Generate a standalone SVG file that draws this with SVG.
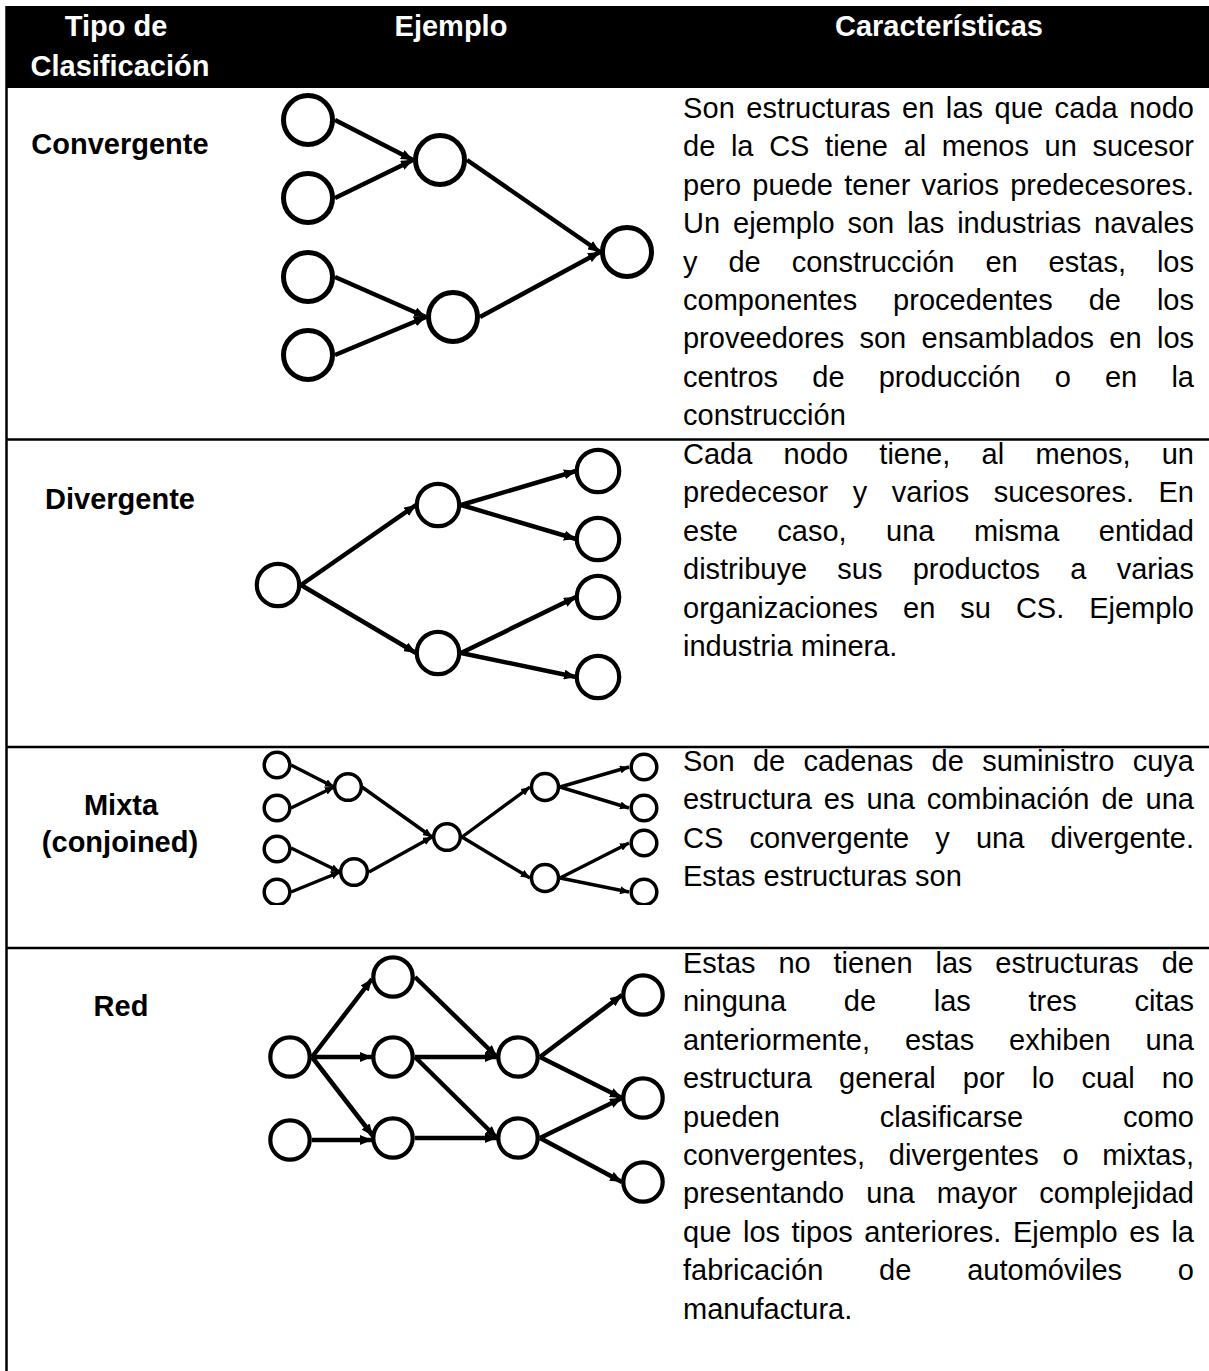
<svg xmlns="http://www.w3.org/2000/svg" width="1209" height="1371" viewBox="0 0 1209 1371">
<style>
.hdr{font-family:"Liberation Sans",Arial,sans-serif;font-weight:bold;font-size:29px;fill:#fff;text-anchor:middle}
.lbl{font-family:"Liberation Sans",Arial,sans-serif;font-weight:bold;font-size:29px;fill:#000;text-anchor:middle}
.body{font-family:"Liberation Sans",Arial,sans-serif;font-size:29px;fill:#000}
.rule{stroke:#000;stroke-width:2.5;fill:none}
.n5{fill:#fff;stroke:#000;stroke-width:5}
.n4{fill:#fff;stroke:#000;stroke-width:4.2}
.n3{fill:#fff;stroke:#000;stroke-width:3.5}
.e{stroke:#000;fill:none;marker-end:url(#ah)}
.e4{stroke-width:4.5}
.e3{stroke-width:3.4;marker-end:url(#ahs)}
</style>
<defs>
<marker id="ah" markerUnits="userSpaceOnUse" markerWidth="12" markerHeight="10" refX="12" refY="5" orient="auto"><path d="M0,0 L12,5 L0,10 Z" fill="#000"/></marker>
<marker id="ahs" markerUnits="userSpaceOnUse" markerWidth="9" markerHeight="8" refX="9" refY="4" orient="auto"><path d="M0,0 L9,4 L0,8 Z" fill="#000"/></marker>
<clipPath id="mixclip"><rect x="255" y="748" width="404" height="157"/></clipPath>
</defs>
<rect width="1209" height="1371" fill="#fff"/>

<g id="table">
<rect x="6" y="6" width="1203" height="82" fill="#000"/>
<line class="rule" x1="6.5" y1="6" x2="6.5" y2="1371"/>
<line class="rule" x1="6" y1="439.5" x2="1209" y2="439.5"/>
<line class="rule" x1="6" y1="747" x2="1209" y2="747"/>
<line class="rule" x1="6" y1="948" x2="1209" y2="948"/>
</g>

<g id="header">
<text class="hdr" x="116" y="36">Tipo de</text>
<text class="hdr" x="120" y="76">Clasificación</text>
<text class="hdr" x="451" y="36">Ejemplo</text>
<text class="hdr" x="939" y="36">Características</text>
</g>

<g id="labels">
<text class="lbl" x="120" y="154">Convergente</text>
<text class="lbl" x="120" y="509">Divergente</text>
<text class="lbl" x="121" y="815">Mixta</text>
<text class="lbl" x="120" y="852">(conjoined)</text>
<text class="lbl" x="121" y="1016">Red</text>
</g>

<g id="desc-convergente">
<text class="body" x="683" y="118" word-spacing="3.2" textLength="511" lengthAdjust="spacing">Son estructuras en las que cada nodo</text>
<text class="body" x="683" y="156.4" word-spacing="7.6" textLength="511" lengthAdjust="spacing">de la CS tiene al menos un sucesor</text>
<text class="body" x="683" y="194.8" word-spacing="3.2" textLength="511" lengthAdjust="spacing">pero puede tener varios predecesores.</text>
<text class="body" x="683" y="233.2" word-spacing="4.9" textLength="511" lengthAdjust="spacing">Un ejemplo son las industrias navales</text>
<text class="body" x="683" y="271.6" word-spacing="22.9" textLength="511" lengthAdjust="spacing">y de construcción en estas, los</text>
<text class="body" x="683" y="310" word-spacing="27.9" textLength="511" lengthAdjust="spacing">componentes procedentes de los</text>
<text class="body" x="683" y="348.4" word-spacing="7.3" textLength="511" lengthAdjust="spacing">proveedores son ensamblados en los</text>
<text class="body" x="683" y="386.8" word-spacing="26.1" textLength="511" lengthAdjust="spacing">centros de producción o en la</text>
<text class="body" x="683" y="425.2">construcción</text>
</g>

<g id="desc-divergente">
<text class="body" x="683" y="464" word-spacing="23.2" textLength="511" lengthAdjust="spacing">Cada nodo tiene, al menos, un</text>
<text class="body" x="683" y="502.4" word-spacing="16.5" textLength="511" lengthAdjust="spacing">predecesor y varios sucesores. En</text>
<text class="body" x="683" y="540.8" word-spacing="31.4" textLength="511" lengthAdjust="spacing">este caso, una misma entidad</text>
<text class="body" x="683" y="579.2" word-spacing="22.2" textLength="511" lengthAdjust="spacing">distribuye sus productos a varias</text>
<text class="body" x="683" y="617.6" word-spacing="16.9" textLength="511" lengthAdjust="spacing">organizaciones en su CS. Ejemplo</text>
<text class="body" x="683" y="656">industria minera.</text>
</g>

<g id="desc-mixta">
<text class="body" x="683" y="771" word-spacing="10.3" textLength="511" lengthAdjust="spacing">Son de cadenas de suministro cuya</text>
<text class="body" x="683" y="809.4" word-spacing="3.9" textLength="511" lengthAdjust="spacing">estructura es una combinación de una</text>
<text class="body" x="683" y="847.8" word-spacing="18.1" textLength="511" lengthAdjust="spacing">CS convergente y una divergente.</text>
<text class="body" x="683" y="886.2">Estas estructuras son</text>
</g>

<g id="desc-red">
<text class="body" x="683" y="973" word-spacing="14.8" textLength="511" lengthAdjust="spacing">Estas no tienen las estructuras de</text>
<text class="body" x="683" y="1011.4" word-spacing="49.6" textLength="511" lengthAdjust="spacing">ninguna de las tres citas</text>
<text class="body" x="683" y="1049.8" word-spacing="26.9" textLength="511" lengthAdjust="spacing">anteriormente, estas exhiben una</text>
<text class="body" x="683" y="1088.2" word-spacing="19" textLength="511" lengthAdjust="spacing">estructura general por lo cual no</text>
<text class="body" x="683" y="1126.6" word-spacing="91.9" textLength="511" lengthAdjust="spacing">pueden clasificarse como</text>
<text class="body" x="683" y="1165" word-spacing="15.6" textLength="511" lengthAdjust="spacing">convergentes, divergentes o mixtas,</text>
<text class="body" x="683" y="1203.4" word-spacing="14" textLength="511" lengthAdjust="spacing">presentando una mayor complejidad</text>
<text class="body" x="683" y="1241.8" word-spacing="3.5" textLength="511" lengthAdjust="spacing">que los tipos anteriores. Ejemplo es la</text>
<text class="body" x="683" y="1280.2" word-spacing="47.8" textLength="511" lengthAdjust="spacing">fabricación de automóviles o</text>
<text class="body" x="683" y="1318.6">manufactura.</text>
</g>

<g id="connectors">
<g class="e e4">
<line x1="335" y1="120" x2="413" y2="160"/>
<line x1="335" y1="198" x2="413" y2="160"/>
<line x1="335" y1="277" x2="426" y2="317"/>
<line x1="335" y1="355" x2="426" y2="317"/>
<line x1="467" y1="160" x2="600" y2="252"/>
<line x1="480" y1="317" x2="600" y2="252"/>
</g>
<g class="e e4">
<line x1="301" y1="585" x2="416" y2="505"/>
<line x1="301" y1="585" x2="416" y2="653"/>
<line x1="461" y1="505" x2="576" y2="471"/>
<line x1="461" y1="505" x2="576" y2="539"/>
<line x1="461" y1="653" x2="576" y2="597"/>
<line x1="461" y1="653" x2="576" y2="677"/>
</g>
<g class="e e3" clip-path="url(#mixclip)">
<line x1="291" y1="765" x2="334" y2="787"/>
<line x1="291" y1="808" x2="334" y2="787"/>
<line x1="291" y1="848" x2="340" y2="872"/>
<line x1="291" y1="892" x2="340" y2="872"/>
<line x1="362" y1="787" x2="432" y2="837"/>
<line x1="369" y1="872" x2="432" y2="837"/>
<line x1="462" y1="837" x2="530" y2="787"/>
<line x1="462" y1="837" x2="530" y2="878"/>
<line x1="560" y1="787" x2="629" y2="767"/>
<line x1="560" y1="787" x2="629" y2="808"/>
<line x1="560" y1="878" x2="629" y2="843"/>
<line x1="560" y1="878" x2="629" y2="892"/>
</g>
<g class="e e4">
<line x1="312" y1="1057" x2="372" y2="979"/>
<line x1="312" y1="1057" x2="372" y2="1057"/>
<line x1="312" y1="1057" x2="373" y2="1136"/>
<line x1="312" y1="1140" x2="372" y2="1140"/>
<line x1="415" y1="977" x2="497" y2="1057"/>
<line x1="415" y1="1057" x2="497" y2="1057"/>
<line x1="415" y1="1057" x2="497" y2="1138"/>
<line x1="415" y1="1138" x2="497" y2="1138"/>
<line x1="540" y1="1057" x2="622" y2="995"/>
<line x1="540" y1="1057" x2="622" y2="1098"/>
<line x1="540" y1="1138" x2="622" y2="1098"/>
<line x1="540" y1="1138" x2="622" y2="1182"/>
</g>
</g>

<g id="conv-nodes">
<g id="conv-s1"><circle class="n5" cx="308" cy="120" r="24.5"/></g>
<g id="conv-s2"><circle class="n5" cx="308" cy="198" r="24.5"/></g>
<g id="conv-s3"><circle class="n5" cx="308" cy="277" r="24.5"/></g>
<g id="conv-s4"><circle class="n5" cx="308" cy="355" r="24.5"/></g>
<g id="conv-m1"><circle class="n5" cx="440" cy="160" r="24.5"/></g>
<g id="conv-m2"><circle class="n5" cx="453" cy="317" r="24.5"/></g>
<g id="conv-out"><circle class="n5" cx="627" cy="252" r="24.5"/></g>
</g>

<g id="div-nodes">
<g id="div-root"><circle class="n4" cx="278" cy="585" r="21.2"/></g>
<g id="div-m1"><circle class="n4" cx="438" cy="505" r="21.2"/></g>
<g id="div-m2"><circle class="n4" cx="438" cy="653" r="21.2"/></g>
<g id="div-t1"><circle class="n4" cx="598" cy="471" r="21.2"/></g>
<g id="div-t2"><circle class="n4" cx="598" cy="539" r="21.2"/></g>
<g id="div-t3"><circle class="n4" cx="598" cy="597" r="21.2"/></g>
<g id="div-t4"><circle class="n4" cx="598" cy="677" r="21.2"/></g>
</g>

<g id="mix-nodes" clip-path="url(#mixclip)">
<g id="mix-s1"><circle class="n3" cx="277" cy="765" r="12.8"/></g>
<g id="mix-s2"><circle class="n3" cx="277" cy="808" r="12.8"/></g>
<g id="mix-s3"><circle class="n3" cx="277" cy="849" r="12.8"/></g>
<g id="mix-s4"><circle class="n3" cx="277" cy="892" r="12.8"/></g>
<g id="mix-m1"><circle class="n3" cx="348" cy="787" r="13.3"/></g>
<g id="mix-m2"><circle class="n3" cx="354" cy="872" r="13.3"/></g>
<g id="mix-c"><circle class="n3" cx="447" cy="837" r="13.3"/></g>
<g id="mix-m3"><circle class="n3" cx="545" cy="787" r="13.5"/></g>
<g id="mix-m4"><circle class="n3" cx="545" cy="878" r="13.5"/></g>
<g id="mix-t1"><circle class="n3" cx="644" cy="767" r="12.8"/></g>
<g id="mix-t2"><circle class="n3" cx="644" cy="808" r="12.8"/></g>
<g id="mix-t3"><circle class="n3" cx="644" cy="843" r="12.8"/></g>
<g id="mix-t4"><circle class="n3" cx="644" cy="892" r="12.8"/></g>
</g>

<g id="red-nodes">
<g id="red-top"><circle class="n4" cx="393" cy="977" r="19.7"/></g>
<g id="red-s1"><circle class="n4" cx="290" cy="1057" r="19.7"/></g>
<g id="red-s2"><circle class="n4" cx="290" cy="1140" r="19.7"/></g>
<g id="red-m1"><circle class="n4" cx="393" cy="1057" r="19.7"/></g>
<g id="red-m2"><circle class="n4" cx="393" cy="1138" r="19.7"/></g>
<g id="red-r1"><circle class="n4" cx="518" cy="1057" r="19.7"/></g>
<g id="red-r2"><circle class="n4" cx="518" cy="1138" r="19.7"/></g>
<g id="red-t1"><circle class="n4" cx="643" cy="995" r="19.7"/></g>
<g id="red-t2"><circle class="n4" cx="643" cy="1098" r="19.7"/></g>
<g id="red-t3"><circle class="n4" cx="643" cy="1182" r="19.7"/></g>
</g>
</svg>
